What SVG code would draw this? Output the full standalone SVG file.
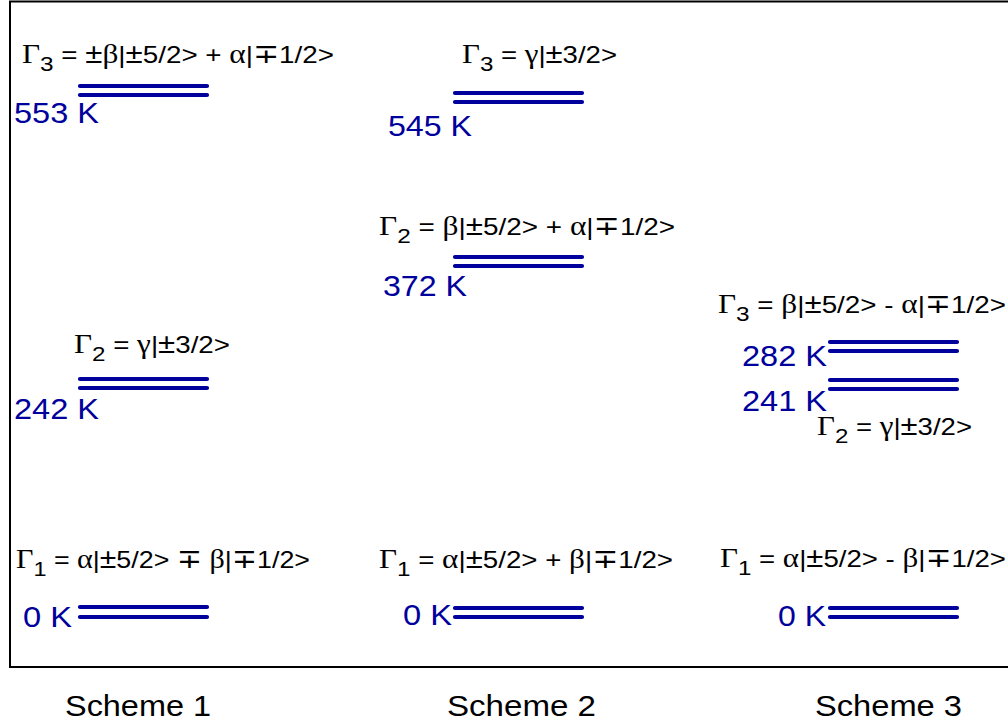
<svg xmlns="http://www.w3.org/2000/svg" width="1008" height="721" viewBox="0 0 1008 721">
<style>
.lbl{font-family:"Liberation Sans",Arial,"DejaVu Sans",sans-serif;font-size:24px;fill:#000}
.g{font-family:"Liberation Serif","DejaVu Serif",serif;font-size:27px}
.sub{font-size:21px}
.pm{font-size:27px}
.k{font-family:"Liberation Sans",Arial,sans-serif;font-size:30px;fill:#00009c}
.lvl{stroke:#00009c;stroke-width:4.2;stroke-linecap:round;fill:none}
.sch{font-family:"Liberation Sans",Arial,sans-serif;font-size:29px;fill:#000}
</style>
<rect x="0" y="0" width="1008" height="721" fill="#fff"/>
<rect x="10" y="1.5" width="1010" height="665.5" fill="none" stroke="#000" stroke-width="2"/>
<g id="connectors"/>

<g id="s1-g3">
<path class="lvl" d="M80 86H207M80 95H207"/>
<text class="lbl" x="22" y="63" textLength="312" lengthAdjust="spacingAndGlyphs"><tspan class="g">Γ</tspan><tspan class="sub" dy="8">3</tspan><tspan dy="-8"> = </tspan><tspan class="pm">±</tspan><tspan class="g">β</tspan><tspan>|</tspan><tspan class="pm">±</tspan><tspan>5/2&gt; + </tspan><tspan class="g">α</tspan><tspan>|</tspan><tspan class="pm">∓</tspan><tspan>1/2&gt;</tspan></text>
<text class="k" x="14" y="123" textLength="85" lengthAdjust="spacingAndGlyphs">553 K</text>
</g>
<g id="s1-g2">
<path class="lvl" d="M80 379H207M80 388H207"/>
<text class="lbl" x="74" y="353" textLength="156" lengthAdjust="spacingAndGlyphs"><tspan class="g">Γ</tspan><tspan class="sub" dy="8">2</tspan><tspan dy="-8"> = </tspan><tspan class="g">γ</tspan><tspan>|</tspan><tspan class="pm">±</tspan><tspan>3/2&gt;</tspan></text>
<text class="k" x="14" y="419" textLength="85" lengthAdjust="spacingAndGlyphs">242 K</text>
</g>
<g id="s1-g1">
<path class="lvl" d="M80 607H207M80 617H207"/>
<text class="lbl" x="16" y="568" textLength="294" lengthAdjust="spacingAndGlyphs"><tspan class="g">Γ</tspan><tspan class="sub" dy="8">1</tspan><tspan dy="-8"> = </tspan><tspan class="g">α</tspan><tspan>|</tspan><tspan class="pm">±</tspan><tspan>5/2&gt; </tspan><tspan class="pm">∓</tspan><tspan> </tspan><tspan class="g">β</tspan><tspan>|</tspan><tspan class="pm">∓</tspan><tspan>1/2&gt;</tspan></text>
<text class="k" x="23" y="627" textLength="49" lengthAdjust="spacingAndGlyphs">0 K</text>
</g>

<g id="s2-g3">
<path class="lvl" d="M455 93H582M455 102H582"/>
<text class="lbl" x="462" y="63" textLength="155" lengthAdjust="spacingAndGlyphs"><tspan class="g">Γ</tspan><tspan class="sub" dy="8">3</tspan><tspan dy="-8"> = </tspan><tspan class="g">γ</tspan><tspan>|</tspan><tspan class="pm">±</tspan><tspan>3/2&gt;</tspan></text>
<text class="k" x="388" y="136" textLength="84" lengthAdjust="spacingAndGlyphs">545 K</text>
</g>
<g id="s2-g2">
<path class="lvl" d="M455 257H582M455 266H582"/>
<text class="lbl" x="379" y="235" textLength="296" lengthAdjust="spacingAndGlyphs"><tspan class="g">Γ</tspan><tspan class="sub" dy="8">2</tspan><tspan dy="-8"> = </tspan><tspan class="g">β</tspan><tspan>|</tspan><tspan class="pm">±</tspan><tspan>5/2&gt; + </tspan><tspan class="g">α</tspan><tspan>|</tspan><tspan class="pm">∓</tspan><tspan>1/2&gt;</tspan></text>
<text class="k" x="383" y="296" textLength="84" lengthAdjust="spacingAndGlyphs">372 K</text>
</g>
<g id="s2-g1">
<path class="lvl" d="M455 608H582M455 617H582"/>
<text class="lbl" x="379" y="568" textLength="294" lengthAdjust="spacingAndGlyphs"><tspan class="g">Γ</tspan><tspan class="sub" dy="8">1</tspan><tspan dy="-8"> = </tspan><tspan class="g">α</tspan><tspan>|</tspan><tspan class="pm">±</tspan><tspan>5/2&gt; + </tspan><tspan class="g">β</tspan><tspan>|</tspan><tspan class="pm">∓</tspan><tspan>1/2&gt;</tspan></text>
<text class="k" x="403" y="625" textLength="49" lengthAdjust="spacingAndGlyphs">0 K</text>
</g>

<g id="s3-g3">
<path class="lvl" d="M830 342H957M830 351H957"/>
<text class="lbl" x="718" y="313" textLength="288" lengthAdjust="spacingAndGlyphs"><tspan class="g">Γ</tspan><tspan class="sub" dy="8">3</tspan><tspan dy="-8"> = </tspan><tspan class="g">β</tspan><tspan>|</tspan><tspan class="pm">±</tspan><tspan>5/2&gt; - </tspan><tspan class="g">α</tspan><tspan>|</tspan><tspan class="pm">∓</tspan><tspan>1/2&gt;</tspan></text>
<text class="k" x="742" y="366" textLength="85" lengthAdjust="spacingAndGlyphs">282 K</text>
</g>
<g id="s3-g2">
<path class="lvl" d="M830 380H957M830 389H957"/>
<text class="lbl" x="817" y="435" textLength="155" lengthAdjust="spacingAndGlyphs"><tspan class="g">Γ</tspan><tspan class="sub" dy="8">2</tspan><tspan dy="-8"> = </tspan><tspan class="g">γ</tspan><tspan>|</tspan><tspan class="pm">±</tspan><tspan>3/2&gt;</tspan></text>
<text class="k" x="742" y="411" textLength="85" lengthAdjust="spacingAndGlyphs">241 K</text>
</g>
<g id="s3-g1">
<path class="lvl" d="M830 608H957M830 617H957"/>
<text class="lbl" x="720" y="567" textLength="286" lengthAdjust="spacingAndGlyphs"><tspan class="g">Γ</tspan><tspan class="sub" dy="8">1</tspan><tspan dy="-8"> = </tspan><tspan class="g">α</tspan><tspan>|</tspan><tspan class="pm">±</tspan><tspan>5/2&gt; - </tspan><tspan class="g">β</tspan><tspan>|</tspan><tspan class="pm">∓</tspan><tspan>1/2&gt;</tspan></text>
<text class="k" x="778" y="626" textLength="48" lengthAdjust="spacingAndGlyphs">0 K</text>
</g>

<g id="scheme-labels">
<text class="sch" x="65" y="716" textLength="146" lengthAdjust="spacingAndGlyphs">Scheme 1</text>
<text class="sch" x="447" y="716" textLength="149" lengthAdjust="spacingAndGlyphs">Scheme 2</text>
<text class="sch" x="815" y="716" textLength="147" lengthAdjust="spacingAndGlyphs">Scheme 3</text>
</g>
</svg>
